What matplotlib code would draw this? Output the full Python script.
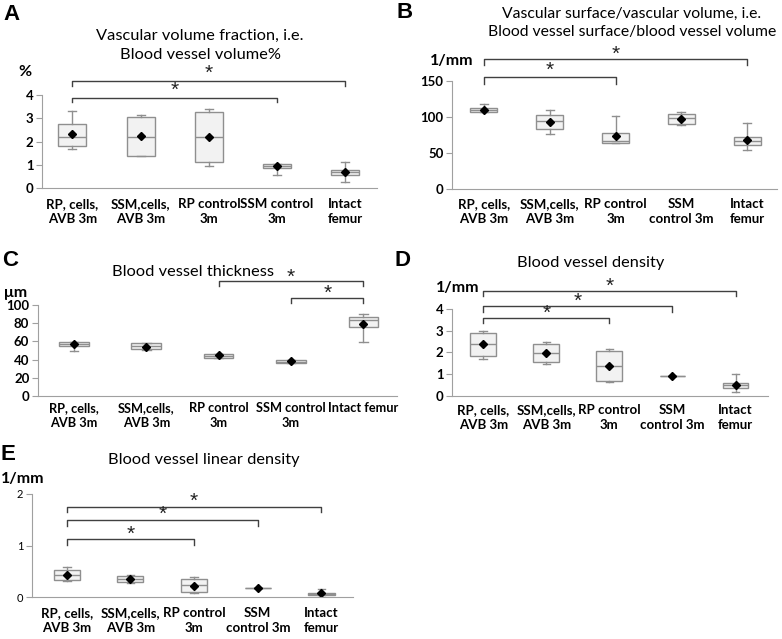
import matplotlib
matplotlib.use('Agg')
from matplotlib import pyplot as plt

# ---- data (box stats: whislo, q1, med, q3, whishi, mean) ----
labels_a = ['RP, cells,\nAVB 3m', 'SSM,cells,\nAVB 3m', 'RP control\n3m', 'SSM control\n3m', 'Intact\nfemur']
labels_b = ['RP, cells,\nAVB 3m', 'SSM,cells,\nAVB 3m', 'RP control\n3m', 'SSM\ncontrol 3m', 'Intact\nfemur']
labels_c = ['RP, cells,\nAVB 3m', 'SSM,cells,\nAVB 3m', 'RP control\n3m', 'SSM control\n3m', 'Intact femur']
labels_d = labels_b
labels_e = labels_b

# A: vascular volume fraction (%)
a_lo = [1.68, 1.37, 0.96, 0.57, 0.26]
a_q1 = [1.83, 1.40, 1.11, 0.89, 0.57]
a_med = [2.21, 2.21, 2.19, 0.96, 0.69]
a_q3 = [2.74, 3.06, 3.26, 1.04, 0.79]
a_hi = [3.30, 3.13, 3.41, 1.04, 1.14]
a_mean = [2.34, 2.23, 2.19, 0.94, 0.69]

# B: surface / volume (1/mm)
b_lo = [107.0, 75.9, 64.4, 88.8, 54.3]
b_q1 = [107.2, 82.8, 64.4, 89.7, 61.2]
b_med = [110.0, 93.9, 67.2, 98.0, 67.2]
b_q3 = [112.0, 102.6, 77.3, 104.0, 72.2]
b_hi = [118.0, 110.0, 101.7, 106.3, 91.6]
b_mean = [109.5, 93.4, 74.1, 97.1, 67.6]

# C: thickness (um)
c_lo = [49.5, 50.5, 42.1, 36.3, 59.3]
c_q1 = [54.9, 51.6, 42.1, 36.3, 75.5]
c_med = [57.1, 55.0, 44.0, 37.7, 83.2]
c_q3 = [59.7, 57.9, 45.8, 39.2, 86.8]
c_hi = [59.7, 57.9, 45.8, 39.2, 90.1]
c_mean = [56.8, 54.2, 44.7, 38.1, 78.8]

# D: density (1/mm)
d_lo = [1.71, 1.48, 0.63, 0.92, 0.15]
d_q1 = [1.83, 1.54, 0.69, 0.92, 0.37]
d_med = [2.37, 1.98, 1.38, 0.92, 0.48]
d_q3 = [2.88, 2.37, 2.08, 0.92, 0.58]
d_hi = [3.00, 2.46, 2.15, 0.92, 1.00]
d_mean = [2.37, 1.98, 1.38, 0.92, 0.49]

# E: linear density (1/mm)
e_lo = [0.32, 0.28, 0.08, 0.175, 0.01]
e_q1 = [0.335, 0.29, 0.10, 0.175, 0.05]
e_med = [0.43, 0.35, 0.23, 0.175, 0.07]
e_q3 = [0.53, 0.41, 0.355, 0.175, 0.085]
e_hi = [0.58, 0.43, 0.39, 0.175, 0.155]
e_mean = [0.43, 0.35, 0.22, 0.175, 0.077]

# significance brackets: (group i, group j)
sig_a = [(0, 3), (0, 4)]
sig_b = [(0, 2), (0, 4)]
sig_c = [(3, 4), (2, 4)]
sig_d = [(0, 2), (0, 3), (0, 4)]
sig_e = [(0, 2), (0, 3), (0, 4)]

plt.rcParams['font.family'] = ['Lato', 'DejaVu Sans']

W, H = 782, 639
fig = plt.figure(figsize=(W / 100, H / 100), dpi=100)

GRAY = '#a0a0a0'
BOXC = '#8f8f8f'
BRK = '#404040'
TICKFS = 9.5
TITLEFS = 11.8


def px_axes(left, top, right, bottom):
    return fig.add_axes([left / W, 1 - bottom / H, (right - left) / W, (bottom - top) / H])


def ftext(x, y, s, **kw):
    fig.text(x / W, 1 - y / H, s, **kw)


def panel(rect, xlim, ylim, yticks, labels, lo, q1, med, q3, hi, mean,
          sigs, brackets, xpad, ybold=True, xfs=TICKFS):
    ax = px_axes(*rect)
    stats = []
    for i in range(len(labels)):
        stats.append(dict(whislo=lo[i], q1=q1[i], med=med[i], q3=q3[i],
                          whishi=hi[i], mean=mean[i], fliers=[]))
    ax.bxp(stats, positions=range(len(labels)), widths=0.41, showmeans=True,
           showfliers=False, patch_artist=True, capwidths=0.12,
           boxprops=dict(facecolor='#f2f2f2', edgecolor=BOXC, linewidth=1.0),
           medianprops=dict(color=BOXC, linewidth=1.0),
           whiskerprops=dict(color=BOXC, linewidth=1.0),
           capprops=dict(color=BOXC, linewidth=1.0),
           meanprops=dict(marker='D', markerfacecolor='k', markeredgecolor='k',
                          markersize=4.5))
    ax.set_xlim(*xlim)
    ax.set_ylim(*ylim)
    ax.set_yticks(yticks)
    ax.set_xticks(range(len(labels)))
    ax.set_xticklabels(labels, fontsize=xfs, fontweight='bold', linespacing=1.25)
    ax.tick_params(axis='x', length=0, pad=xpad)
    if ybold:
        ax.tick_params(axis='y', length=4, color=GRAY, labelsize=TICKFS, pad=2)
        for t in ax.get_yticklabels():
            t.set_fontweight('bold')
    else:
        ax.tick_params(axis='y', length=4, color=GRAY, labelsize=8, pad=2)
    for s in ['top', 'right']:
        ax.spines[s].set_visible(False)
    for s in ['left', 'bottom']:
        ax.spines[s].set_color(GRAY)
    for (i, j), (bar, tick, star) in zip(sigs, brackets):
        ax.plot([i, i, j, j], [tick, bar, bar, tick], color=BRK, lw=1.0,
                clip_on=False)
        ax.text((i + j) / 2, star, '*', ha='center', va='center', fontsize=15,
                color='#222222', family='Liberation Sans', clip_on=False)
    return ax


panel((41.7, 95, 376.7, 188.3), (-0.45, 4.46), (0, 4), [0, 1, 2, 3, 4], labels_a,
      a_lo, a_q1, a_med, a_q3, a_hi, a_mean, sig_a,
      [(3.89, 3.69, 4.22), (4.60, 4.39, 4.93)], 7)
panel((451.7, 80.7, 776.7, 189.3), (-0.49, 4.45), (0, 150), [0, 50, 100, 150], labels_b,
      b_lo, b_q1, b_med, b_q3, b_hi, b_mean, sig_b,
      [(154.7, 146, 164), (180, 171.7, 187)], 6.5)
panel((37.7, 305, 396.7, 396), (-0.5, 4.46), (0, 100), [0, 20, 40, 60, 80, 100], labels_c,
      c_lo, c_q1, c_med, c_q3, c_hi, c_mean, sig_c,
      [(107.4, 101.9, 112.5), (126.4, 120.9, 130.5)], 4.5, xfs=9.2)
panel((451.7, 309, 767.7, 395.7), (-0.5, 4.51), (0, 4), [0, 1, 2, 3, 4], labels_d,
      d_lo, d_q1, d_med, d_q3, d_hi, d_mean, sig_d,
      [(3.59, 3.36, 3.82), (4.13, 3.87, 4.36), (4.84, 4.59, 5.05)], 6)
panel((31.7, 494, 353.3, 597.3), (-0.55, 4.5), (0, 2), [0, 1, 2], labels_e,
      e_lo, e_q1, e_med, e_q3, e_hi, e_mean, sig_e,
      [(1.12, 1.01, 1.22), (1.50, 1.39, 1.60), (1.75, 1.66, 1.85)], 7, ybold=False)

# titles
ftext(200, 36, 'Vascular volume fraction, i.e.', ha='center', va='center', fontsize=TITLEFS)
ftext(200, 55, 'Blood vessel volume%', ha='center', va='center', fontsize=TITLEFS)
ftext(632, 14, 'Vascular surface/vascular volume, i.e.', ha='center', va='center', fontsize=11.3)
ftext(632, 32, 'Blood vessel surface/blood vessel volume', ha='center', va='center', fontsize=11.3)
ftext(193, 272, 'Blood vessel thickness', ha='center', va='center', fontsize=TITLEFS)
ftext(591, 263, 'Blood vessel density', ha='center', va='center', fontsize=TITLEFS)
ftext(204, 460, 'Blood vessel linear density', ha='center', va='center', fontsize=TITLEFS)

# panel letters
for x, y, s in [(3, 15, 'A'), (397, 13, 'B'), (2, 260, 'C'), (395, 260, 'D'), (0, 455, 'E')]:
    ftext(x, y, s, ha='left', va='center', fontsize=16, fontweight='bold',
          family='Liberation Sans')

# unit labels
ftext(25, 72, '%', ha='center', va='center', fontsize=11.5, fontweight='bold')
ftext(452, 61, '1/mm', ha='center', va='center', fontsize=11.5, fontweight='bold')
ftext(16, 293, 'μm', ha='center', va='center', fontsize=11.5, fontweight='bold')
ftext(458, 288, '1/mm', ha='center', va='center', fontsize=11.5, fontweight='bold')
ftext(1, 479, '1/mm', ha='left', va='center', fontsize=11.5, fontweight='bold')

fig.savefig('out.png', dpi=100)
